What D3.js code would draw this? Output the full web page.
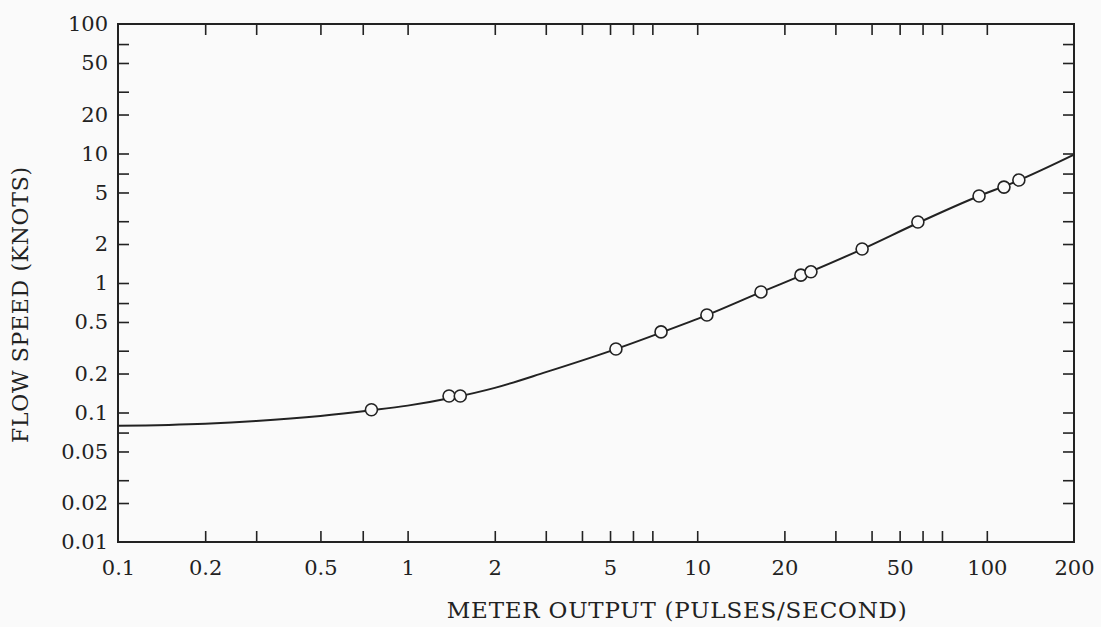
<!DOCTYPE html>
<html>
<head>
<meta charset="utf-8">
<script src="https://cdnjs.cloudflare.com/ajax/libs/d3/7.8.5/d3.min.js"></script>
<style>
  html, body { margin: 0; padding: 0; background: #fafafa; }
  text { font-family: "DejaVu Serif", "Liberation Serif", serif; fill: #222; }
</style>
</head>
<body>
<div id="canvas"></div>
<script>
// measured points (pulses/s, knots)
const pointPulses = [0.75, 1.39, 1.52, 5.24, 7.5, 10.8, 16.6, 22.8, 24.7, 37.1, 57.8, 94, 114.6, 129];
const pointSpeed  = [0.105, 0.134, 0.134, 0.309, 0.419, 0.566, 0.853, 1.15, 1.22, 1.83, 2.96, 4.70, 5.5, 6.24];

// calibration curve
const curvePulses = [0.1, 0.2, 0.3, 0.5, 0.75, 1, 1.45, 2, 3, 5, 7.5, 10.8, 16.6, 23.7, 37, 58, 94, 120, 200];
const curveSpeed  = [0.079, 0.082, 0.086, 0.094, 0.104, 0.113, 0.131, 0.155, 0.205, 0.298, 0.414, 0.565, 0.85, 1.18, 1.82, 2.92, 4.7, 5.8, 9.8];

const xTicks = [0.2, 0.3, 0.5, 0.7, 1, 2, 3, 4, 5, 6, 7, 10, 20, 30, 40, 50, 60, 70, 100];
const xLabels = [0.1, 0.2, 0.5, 1, 2, 5, 10, 20, 50, 100, 200];
const yTicks = [0.02, 0.03, 0.05, 0.07, 0.1, 0.2, 0.3, 0.5, 0.7, 1, 2, 3, 5, 7, 10, 20, 30, 50, 70];
const yLabels = [0.01, 0.02, 0.05, 0.1, 0.2, 0.5, 1, 2, 5, 10, 20, 50, 100];

const width = 1101;
const height = 627;
const margin = { top: 24, left: 118, bottom: 85, right: 27 };
const iwidth = width - margin.left - margin.right;
const iheight = height - margin.top - margin.bottom;

const svg = d3.select("#canvas").append("svg")
  .attr("width", width)
  .attr("height", height);

const g = svg.append("g").attr("transform", `translate(${margin.left},${margin.top})`);

const x = d3.scaleLog().domain([0.1, 200]).range([0, iwidth]);
const y = d3.scaleLog().domain([0.01, 100]).range([iheight, 0]);

const fmt = d => String(d);

// inward ticks on all four sides
const tickLen = 11;
g.append("g").attr("transform", `translate(0,${iheight})`)
  .call(d3.axisBottom(x).tickValues(xTicks).tickSize(-tickLen).tickFormat(""));
g.append("g")
  .call(d3.axisTop(x).tickValues(xTicks).tickSize(-tickLen).tickFormat(""));
g.append("g")
  .call(d3.axisLeft(y).tickValues(yTicks).tickSize(-tickLen).tickFormat(""));
g.append("g").attr("transform", `translate(${iwidth},0)`)
  .call(d3.axisRight(y).tickValues(yTicks).tickSize(-tickLen).tickFormat(""));

g.selectAll(".domain").remove();
g.selectAll(".tick line").attr("stroke", "#222").attr("stroke-width", 1.6);

// frame
g.append("rect")
  .attr("width", iwidth).attr("height", iheight)
  .attr("fill", "none").attr("stroke", "#222").attr("stroke-width", 2);

// labels
const xl = g.append("g").attr("transform", `translate(0,${iheight})`)
  .call(d3.axisBottom(x).tickValues(xLabels).tickSize(0).tickPadding(18).tickFormat(fmt));
const yl = g.append("g")
  .call(d3.axisLeft(y).tickValues(yLabels).tickSize(0).tickPadding(10).tickFormat(fmt));
[xl, yl].forEach(a => {
  a.select(".domain").remove();
  a.selectAll("text").attr("font-size", 21).attr("font-family", "DejaVu Serif").attr("fill", "#222");
});

// curve
const line = d3.line()
  .x(d => x(d[0]))
  .y(d => y(d[1]))
  .curve(d3.curveMonotoneX);

g.append("path")
  .datum(curvePulses.map((p, i) => [p, curveSpeed[i]]))
  .attr("d", line)
  .attr("fill", "none")
  .attr("stroke", "#222")
  .attr("stroke-width", 2);

g.selectAll("circle")
  .data(pointPulses.map((p, i) => [p, pointSpeed[i]]))
  .enter().append("circle")
  .attr("cx", d => x(d[0]))
  .attr("cy", d => y(d[1]))
  .attr("r", 6)
  .attr("fill", "#fafafa")
  .attr("stroke", "#222")
  .attr("stroke-width", 1.6);

// axis titles
svg.append("text")
  .attr("x", margin.left + x(8.5))
  .attr("y", 618)
  .attr("text-anchor", "middle")
  .attr("font-size", 23)
  .attr("textLength", 460)
  .attr("lengthAdjust", "spacing")
  .text("METER OUTPUT (PULSES/SECOND)");

svg.append("text")
  .attr("transform", "translate(28,305) rotate(-90)")
  .attr("text-anchor", "middle")
  .attr("font-size", 22)
  .attr("textLength", 276)
  .attr("lengthAdjust", "spacing")
  .text("FLOW SPEED (KNOTS)");
</script>
</body>
</html>
